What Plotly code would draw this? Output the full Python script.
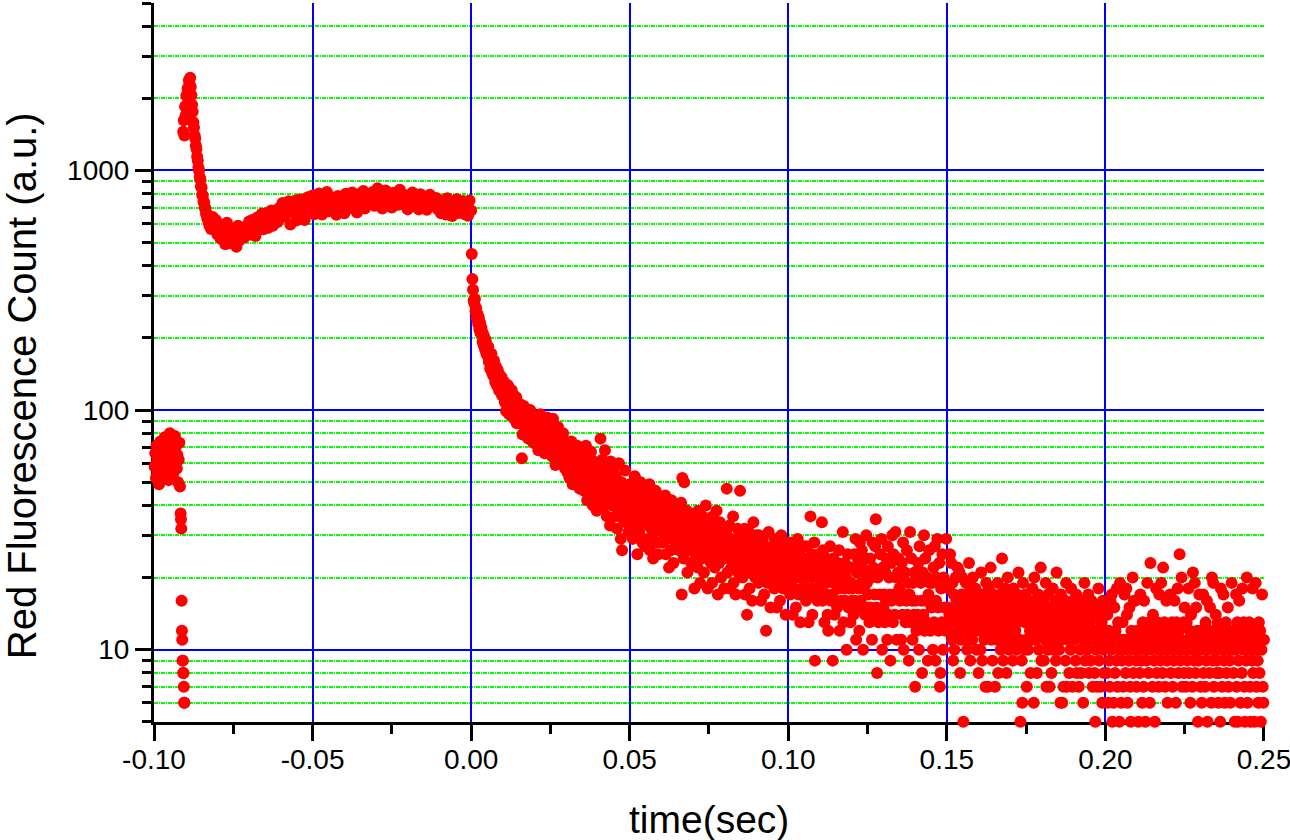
import numpy as np
import plotly.graph_objects as go

# ---------------------------------------------------------------------------
# Red fluorescence photon counts vs. time (log scale)
# ---------------------------------------------------------------------------

# baseline before the excitation pulse (sampled every 0.2 ms)
pre_t0, pre_dt = -0.0998, 0.0002
pre_counts = [58, 66, 52, 71, 61, 55, 68, 49, 63, 74, 57, 65, 60, 53, 70, 62, 77,
              56, 67, 59, 72, 64, 51, 69, 80, 58, 66, 75, 61, 54, 68, 63, 78, 60,
              71, 57, 65, 50, 62, 73, 48]

# short fall-off just before the spike
drop_t = [-0.0916, -0.0915, -0.0914, -0.0913, -0.0912, -0.0911, -0.0910,
          -0.0909, -0.0908, -0.0907, -0.0906, -0.0905, -0.0904]
drop_counts = [37, 35, 32, 16, 12, 11, 9, 9, 8, 8, 7, 6, 6]

# spike and relaxation (0.2 ms sampling)
spike_t0, spike_dt = -0.0908, 0.0002
spike_counts = [1450, 1620, 1400, 1850, 1700, 2050, 1880, 2200, 2080, 2380, 2290,
                2440, 2230, 2060, 1880, 1760, 1590, 1510, 1400, 1360, 1270, 1230,
                1140, 1100, 1030, 1000, 940, 920, 860, 850, 790, 785, 740, 735,
                700, 695, 660, 665, 630, 640, 605, 620, 585, 600, 570]

# plateau up to t = 0 (0.5 ms sampling, one line = 10 ms)
plateau_t0, plateau_dt = -0.0815, 0.0005
plateau_counts = [
    640, 569, 621, 540, 596, 519, 584, 552, 492, 605, 524, 573, 497, 561, 532, 480, 588, 511, 547, 569,
    526, 584, 540, 612, 540, 621, 565, 533, 635, 566, 601, 660, 568, 615, 665, 576, 623, 681, 588, 637,
    680, 610, 697, 636, 732, 643, 706, 664, 744, 595, 702, 669, 748, 619, 706, 757, 660, 715, 621, 760,
    774, 684, 725, 786, 656, 740, 697, 802, 712, 655, 764, 723, 814, 675, 736, 773, 690, 742, 654, 782,
    714, 771, 740, 663, 799, 746, 693, 778, 810, 721, 755, 668, 796, 756, 724, 821, 694, 772, 732, 794,
    743, 813, 713, 774, 842, 734, 786, 694, 758, 825, 725, 791, 765, 701, 808, 738, 779, 719, 830, 753,
    724, 790, 753, 688, 776, 745, 810, 711, 769, 732, 688, 795, 746, 720, 771, 686, 757, 792, 717, 744,
    712, 768, 689, 747, 663, 734, 708, 655, 766, 692, 735, 645, 724, 688, 758, 664, 716, 682, 746, 656,
    712, 647, 750, 681,
]

# decay after the light is switched off (0.2 ms sampling, one line = 5 ms)
decay_t0, decay_dt = 0.0002, 0.0002
decay_counts = [
    448, 352, 318, 287, 279, 291, 258, 266, 241, 252, 229, 244, 217, 232, 209, 221, 214, 193, 207, 186, 201, 179, 195, 172, 181,
    168, 184, 159, 171, 149, 166, 172, 143, 158, 139, 161, 150, 131, 152, 144, 126, 147, 138, 121, 140, 133, 118, 137, 115, 129,
    117, 131, 108, 124, 99, 120, 113, 127, 104, 96, 118, 112, 101, 121, 94, 110, 115, 92, 108, 99, 113, 88, 104, 93, 101,
    94, 106, 88, 101, 63, 79, 97, 104, 85, 92, 98, 81, 89, 95, 76, 93, 87, 100, 84, 78, 91, 86, 73, 88, 82,
    80, 91, 72, 85, 77, 68, 88, 79, 96, 74, 83, 70, 81, 76, 89, 66, 78, 84, 71, 93, 75, 69, 80, 73, 86,
    70, 79, 64, 92, 74, 67, 81, 59, 72, 77, 68, 85, 63, 71, 76, 60, 69, 74, 66, 80, 62, 70, 57, 67, 73,
    63, 55, 70, 61, 52, 66, 58, 74, 60, 49, 64, 57, 68, 54, 62, 59, 71, 51, 56, 63, 47, 60, 55, 65, 53,
    56, 66, 46, 60, 50, 71, 53, 42, 59, 49, 63, 45, 54, 67, 47, 52, 40, 57, 61, 43, 50, 56, 38, 53, 46,
    50, 60, 41, 76, 53, 46, 62, 39, 55, 47, 68, 43, 51, 36, 58, 48, 44, 54, 33, 61, 46, 40, 51, 43, 57,
    43, 36, 53, 46, 32, 49, 41, 60, 38, 45, 29, 50, 26, 42, 35, 48, 39, 56, 34, 43, 36, 46, 31, 41, 49,
    42, 34, 49, 38, 29, 45, 36, 53, 32, 41, 35, 25, 46, 38, 31, 42, 50, 34, 39, 28, 43, 35, 38, 27, 46,
    36, 45, 29, 39, 33, 49, 26, 38, 32, 42, 35, 24, 40, 31, 36, 46, 28, 35, 39, 25, 33, 43, 32, 38, 28,
    33, 40, 28, 36, 30, 44, 25, 35, 29, 39, 32, 22, 37, 33, 26, 42, 30, 35, 23, 36, 29, 39, 28, 32, 35,
    30, 37, 26, 34, 28, 41, 17, 52, 31, 24, 50, 35, 27, 33, 38, 21, 30, 34, 26, 37, 28, 23, 33, 27, 31,
    29, 18, 35, 25, 32, 28, 22, 38, 26, 31, 19, 33, 28, 24, 36, 29, 21, 32, 26, 40, 25, 29, 18, 28, 33,
    27, 33, 23, 30, 19, 36, 26, 29, 22, 31, 24, 38, 27, 17, 30, 23, 34, 26, 20, 29, 31, 24, 27, 18, 30,
    25, 31, 47, 21, 28, 24, 33, 18, 26, 22, 29, 25, 36, 19, 26, 24, 17, 29, 25, 32, 21, 28, 22, 46, 25,
    24, 30, 20, 27, 23, 32, 17, 25, 28, 14, 24, 21, 31, 18, 25, 23, 28, 16, 24, 34, 21, 27, 20, 24, 30,
    23, 27, 19, 30, 22, 26, 16, 24, 20, 29, 23, 17, 27, 22, 12, 26, 19, 24, 31, 20, 23, 15, 26, 22, 27,
    22, 26, 18, 29, 21, 25, 15, 23, 19, 28, 22, 16, 25, 30, 21, 23, 18, 26, 19, 22, 14, 25, 21, 28, 18,
    21, 25, 17, 28, 20, 24, 14, 22, 18, 27, 21, 15, 24, 20, 29, 17, 22, 25, 13, 21, 18, 24, 20, 27, 17,
    20, 24, 16, 27, 18, 23, 13, 21, 17, 36, 20, 25, 14, 23, 18, 28, 9, 21, 17, 24, 16, 20, 25, 18, 23,
    19, 23, 34, 16, 26, 20, 13, 22, 17, 24, 19, 14, 12, 23, 20, 27, 16, 22, 17, 9, 24, 19, 14, 22, 20,
    19, 15, 23, 18, 26, 12, 20, 16, 22, 19, 31, 13, 18, 23, 16, 20, 10, 19, 25, 15, 18, 22, 13, 19, 16,
    18, 22, 14, 25, 16, 29, 11, 21, 15, 24, 18, 12, 28, 16, 19, 26, 22, 10, 18, 21, 14, 24, 30, 19, 15,
    17, 21, 13, 24, 15, 20, 11, 28, 22, 14, 17, 27, 35, 15, 8, 20, 13, 21, 17, 25, 14, 29, 10, 22, 15,
    17, 13, 21, 16, 24, 11, 27, 14, 20, 17, 9, 23, 16, 30, 13, 25, 17, 14, 31, 20, 11, 17, 21, 24, 18,
    16, 20, 11, 23, 14, 28, 10, 17, 21, 13, 16, 26, 14, 19, 9, 17, 31, 13, 24, 16, 11, 19, 14, 21, 7,
    16, 12, 20, 14, 23, 10, 27, 13, 19, 16, 8, 21, 14, 30, 12, 24, 16, 13, 20, 9, 17, 26, 19, 12, 16,
    15, 19, 10, 22, 13, 27, 9, 16, 20, 29, 15, 12, 23, 7, 8, 18, 13, 25, 10, 20, 15, 19, 12, 29, 13,
    15, 12, 18, 14, 25, 13, 23, 11, 19, 9, 17, 10, 14, 20, 16, 13, 22, 12, 15, 21, 8, 11, 17, 20, 13,
    5, 14, 17, 11, 19, 13, 10, 16, 12, 23, 15, 9, 18, 13, 11, 20, 14, 16, 12, 18, 17, 10, 15, 13, 8,
    12, 16, 10, 21, 14, 9, 17, 13, 11, 15, 7, 19, 12, 14, 7, 18, 16, 13, 22, 11, 15, 9, 17, 12, 14,
    7, 13, 16, 11, 19, 8, 14, 12, 17, 10, 15, 24, 13, 9, 16, 11, 18, 14, 8, 12, 20, 15, 10, 13, 17,
    13, 11, 16, 9, 18, 14, 12, 12, 15, 10, 17, 13, 21, 14, 11, 5, 16, 9, 6, 19, 15, 10, 13, 17, 11,
    7, 14, 10, 11, 16, 12, 8, 15, 11, 18, 13, 6, 20, 14, 11, 16, 8, 12, 17, 10, 15, 13, 22, 9, 14,
    12, 16, 9, 13, 11, 19, 7, 14, 10, 17, 12, 7, 15, 11, 8, 13, 18, 10, 14, 12, 16, 9, 21, 13, 11,
    15, 10, 13, 6, 17, 11, 6, 14, 7, 12, 16, 9, 19, 7, 13, 11, 15, 8, 14, 10, 18, 12, 7, 16, 13,
    11, 14, 9, 17, 8, 12, 15, 7, 13, 10, 16, 8, 12, 14, 6, 11, 19, 9, 13, 15, 10, 12, 17, 8, 14,
    13, 9, 16, 11, 7, 14, 12, 8, 5, 10, 15, 7, 12, 18, 9, 14, 11, 7, 13, 6, 16, 10, 8, 12, 15,
    11, 8, 14, 6, 12, 9, 7, 16, 10, 17, 5, 11, 6, 15, 8, 12, 9, 18, 7, 13, 10, 5, 19, 11, 6,
    9, 13, 7, 11, 17, 10, 8, 18, 14, 6, 11, 9, 15, 7, 5, 12, 10, 20, 8, 16, 11, 16, 9, 7, 12,
    10, 5, 12, 8, 17, 9, 11, 6, 13, 7, 16, 10, 5, 12, 9, 19, 11, 8, 13, 6, 23, 10, 12, 7, 14,
    12, 9, 5, 11, 18, 8, 13, 10, 7, 17, 12, 9, 19, 11, 8, 22, 10, 13, 7, 11, 16, 9, 6, 12, 10,
    11, 17, 8, 10, 13, 7, 12, 9, 16, 11, 6, 13, 10, 18, 8, 12, 25, 9, 11, 20, 7, 10, 13, 8, 15,
    10, 7, 13, 9, 11, 18, 8, 12, 6, 14, 10, 7, 21, 11, 9, 19, 8, 15, 10, 12, 5, 9, 17, 11, 7,
    12, 6, 10, 17, 8, 11, 7, 13, 9, 16, 5, 10, 12, 8, 15, 11, 6, 20, 9, 19, 7, 12, 10, 14, 8,
    9, 13, 6, 11, 8, 5, 18, 10, 7, 12, 17, 9, 6, 11, 13, 8, 10, 15, 7, 12, 9, 6, 11, 19, 10,
    11, 8, 12, 5, 10, 17, 7, 13, 5, 9, 16, 11, 6, 12, 8, 18, 10, 13, 7, 5, 11, 9, 20, 6, 12,
    10, 13, 7, 5, 11, 9, 18, 8, 12, 5, 10, 19, 7, 11, 9, 6, 13, 8, 12, 5, 10, 17, 7, 6, 11,
]

# axis ticks
x_tick_vals = [-0.10, -0.05, 0.00, 0.05, 0.10, 0.15, 0.20, 0.25]
x_tick_text = ["-0.10", "-0.05", "0.00", "0.05", "0.10", "0.15", "0.20", "0.25"]
x_minor_vals = [-0.075, -0.025, 0.025, 0.075, 0.125, 0.175, 0.225]
y_tick_vals = [10, 100, 1000]
y_tick_text = ["10", "100", "1000"]
y_minor_vals = [5, 6, 7, 8, 9, 20, 30, 40, 50, 60, 70, 80, 90,
                200, 300, 400, 500, 600, 700, 800, 900, 2000, 3000, 4000, 5000]


def sampled(t0, dt, counts):
    t = np.round(t0 + dt * np.arange(len(counts)), 5)
    return t, np.asarray(counts, dtype=float)


segments = [
    sampled(pre_t0, pre_dt, pre_counts),
    (np.asarray(drop_t), np.asarray(drop_counts, dtype=float)),
    sampled(spike_t0, spike_dt, spike_counts),
    sampled(plateau_t0, plateau_dt, plateau_counts),
    sampled(decay_t0, decay_dt, decay_counts),
]
t_all = np.concatenate([s[0] for s in segments])
c_all = np.concatenate([s[1] for s in segments])

FONT = "Liberation Sans, Arial, Helvetica, sans-serif"

fig = go.Figure()
fig.add_trace(go.Scatter(
    x=t_all, y=c_all, mode="markers",
    marker=dict(color="#ff0000", size=12, line=dict(width=0)),
    cliponaxis=False, showlegend=False, hoverinfo="x+y",
))

fig.update_layout(
    width=1290, height=840,
    margin=dict(l=154, r=26, t=3, b=118, autoexpand=False),
    paper_bgcolor="white", plot_bgcolor="white",
    font=dict(family=FONT, color="black"),
    xaxis=dict(
        range=[-0.10, 0.25001], showline=True, linecolor="black", linewidth=3,
        ticks="outside", ticklen=16, tickwidth=3, tickcolor="black",
        tickmode="array", tickvals=x_tick_vals, ticktext=x_tick_text,
        tickfont=dict(size=28, family=FONT, color="black"),
        ticklabelstandoff=-6, ticklabeloverflow="allow", automargin=False,
        showgrid=True, gridcolor="#0000ff", gridwidth=2, zeroline=False,
        minor=dict(tickmode="array", tickvals=x_minor_vals, ticks="outside",
                   ticklen=9, tickwidth=3, tickcolor="black", showgrid=False),
        layer="below traces", mirror=False,
    ),
    yaxis=dict(
        type="log", range=[np.log10(4.99), np.log10(5000)],
        showline=True, linecolor="black", linewidth=3,
        ticks="outside", ticklen=16, tickwidth=3, tickcolor="black",
        tickmode="array", tickvals=y_tick_vals, ticktext=y_tick_text,
        tickfont=dict(size=28, family=FONT, color="black"), automargin=False,
        showgrid=True, gridcolor="#0000ff", gridwidth=2, zeroline=False,
        minor=dict(tickmode="array", tickvals=y_minor_vals, ticks="outside",
                   ticklen=9, tickwidth=3, tickcolor="black", showgrid=True,
                   gridcolor="#00ff00", gridwidth=1.5, griddash="4px,1px,1px,1px"),
        layer="below traces", mirror=False,
    ),
    annotations=[
        dict(text="time(sec)", xref="paper", yref="paper",
             x=0.5, y=-0.136, xanchor="center", yanchor="middle",
             showarrow=False, font=dict(size=39, family=FONT, color="black")),
        dict(text="Red Fluorescence Count (a.u.)", xref="paper", yref="paper",
             x=-0.1189, y=0.467, xanchor="center", yanchor="middle", textangle=-90,
             showarrow=False, font=dict(size=40, family=FONT, color="black")),
    ],
)

fig.write_html("out.html")
